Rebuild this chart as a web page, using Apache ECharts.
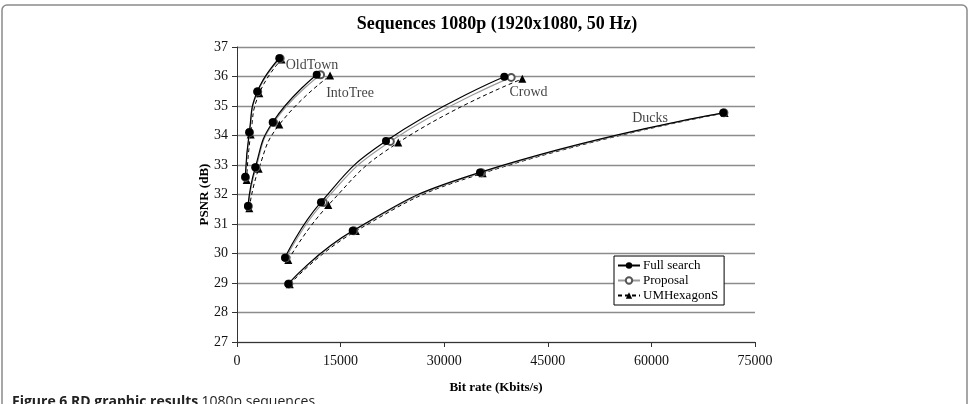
<!DOCTYPE html>
<html>
<head>
<meta charset="utf-8">
<script src="https://cdn.jsdelivr.net/npm/echarts@6/dist/echarts.min.js"></script>
<style>
  html, body { margin: 0; padding: 0; background: #fff; }
  #main { width: 970px; height: 404px; }
</style>
</head>
<body>
<div id="main"></div>
<script>
// axis ticks
var xTicks = [0, 15000, 30000, 45000, 60000, 75000]
var yTicks = [27, 37]
var methods = ['Full search', 'Proposal', 'UMHexagonS']

// [bit rate (Kbits/s), PSNR (dB)]
var oldTownFull = [[1200, 32.60], [1780, 34.11], [2940, 35.49], [6130, 36.62]]
var oldTownProp = [[1230, 32.58], [1820, 34.10], [3000, 35.48], [6250, 36.61]]
var oldTownUmh = [[1400, 32.49], [1980, 34.03], [3230, 35.43], [6450, 36.58]]

var intoTreeFull = [[1590, 31.61], [2650, 32.92], [5170, 34.45], [11540, 36.06]]
var intoTreeProp = [[1650, 31.60], [2750, 32.91], [5300, 34.44], [12100, 36.06]]
var intoTreeUmh = [[1780, 31.53], [3140, 32.87], [6130, 34.37], [13470, 36.03]]

var crowdFull = [[6950, 29.86], [12160, 31.74], [21570, 33.81], [38700, 35.99]]
var crowdProp = [[7100, 29.85], [12500, 31.73], [22200, 33.80], [39700, 35.97]]
var crowdUmh = [[7430, 29.78], [13220, 31.64], [23350, 33.76], [41310, 35.92]]

var ducksFull = [[7430, 28.97], [16750, 30.77], [35180, 32.75], [70410, 34.77]]
var ducksProp = [[7500, 28.97], [16900, 30.77], [35400, 32.74], [70500, 34.77]]
var ducksUmh = [[7650, 28.96], [17200, 30.76], [35570, 32.72], [70600, 34.76]]

// sequence name labels, placed in data coordinates
var seqNames = ['OldTown', 'IntoTree', 'Crowd', 'Ducks']
var seqLabelPos = [[10860, 36.39], [16360, 35.43], [42210, 35.46], [59800, 34.59]]

var serif = '"Liberation Serif", "DejaVu Serif", serif'

function fullSeries(data) {
	return {
		name: methods[0], type: 'line', data: data, smooth: true,
		symbol: 'circle', symbolSize: 8, z: 4,
		itemStyle: { color: '#000' },
		lineStyle: { color: '#000', width: 1.2 }
	}
}
function propSeries(data) {
	return {
		name: methods[1], type: 'line', data: data, smooth: true,
		symbol: 'emptyCircle', symbolSize: 7, z: 3,
		itemStyle: { color: '#555', borderWidth: 1 },
		lineStyle: { color: '#9a9a9a', width: 1.2 }
	}
}
function umhSeries(data) {
	return {
		name: methods[2], type: 'line', data: data, smooth: true,
		symbol: 'triangle', symbolSize: 8, z: 2,
		itemStyle: { color: '#000' },
		lineStyle: { color: '#000', width: 1, type: [4, 3] }
	}
}

var series = [
	umhSeries(oldTownUmh), propSeries(oldTownProp), fullSeries(oldTownFull),
	umhSeries(intoTreeUmh), propSeries(intoTreeProp), fullSeries(intoTreeFull),
	umhSeries(crowdUmh), propSeries(crowdProp), fullSeries(crowdFull),
	umhSeries(ducksUmh), propSeries(ducksProp), fullSeries(ducksFull),
	{
		type: 'scatter', symbolSize: 0, silent: true,
		data: seqLabelPos.map(function (p, i) { return { value: p, name: seqNames[i] } }),
		label: {
			show: true, position: 'inside', formatter: '{b}',
			fontFamily: serif, fontSize: 14, color: '#111'
		}
	}
]

var chart = echarts.init(document.getElementById('main'))
chart.setOption({
	animation: false,
	backgroundColor: '#fff',
	grid: { left: 237, right: 215, top: 47, bottom: 62 },
	legend: {
		data: methods,
		orient: 'vertical',
		left: 614, top: 256,
		padding: [3, 6, 3, 3],
		itemGap: 2,
		itemWidth: 22, itemHeight: 8,
		backgroundColor: '#fff',
		borderColor: '#000', borderWidth: 1,
		textStyle: { fontFamily: serif, fontSize: 13, color: '#000', padding: [0, 0, 0, -2] }
	},
	xAxis: {
		type: 'value', min: xTicks[0], max: xTicks[xTicks.length - 1], interval: 15000,
		name: 'Bit rate (Kbits/s)', nameLocation: 'middle', nameGap: 39, nameMoveOverlap: false,
		nameTextStyle: { fontFamily: serif, fontSize: 13, fontWeight: 'bold', color: '#000' },
		axisLine: { show: true, lineStyle: { color: '#333', width: 1 } },
		axisTick: { show: true, length: 5, lineStyle: { color: '#333' } },
		axisLabel: {
			margin: 12, fontFamily: serif, fontSize: 14, color: '#111',
			formatter: function (v) { return String(v) }
		},
		splitLine: { show: false }
	},
	yAxis: {
		type: 'value', min: yTicks[0], max: yTicks[1], interval: 1,
		name: 'PSNR (dB)', nameLocation: 'middle', nameGap: 26, nameMoveOverlap: false,
		nameTextStyle: { fontFamily: serif, fontSize: 13, fontWeight: 'bold', color: '#000' },
		axisLine: { show: true, lineStyle: { color: '#333', width: 1 } },
		axisTick: { show: true, length: 5, lineStyle: { color: '#333' } },
		axisLabel: { margin: 9, fontFamily: serif, fontSize: 14, color: '#111' },
		splitLine: { show: true, lineStyle: { color: '#8c8c8c', width: 1.3 } }
	},
	graphic: [
		{
			type: 'rect', silent: true, z: -10,
			shape: { x: 2, y: 5, width: 965, height: 430, r: 5 },
			style: { fill: 'none', stroke: '#8a8a8a', lineWidth: 1.5 }
		},
		{
			type: 'text', x: 497, y: 24,
			style: {
				text: 'Sequences 1080p (1920x1080, 50 Hz)',
				font: 'bold 18px ' + serif, fill: '#000',
				align: 'center', verticalAlign: 'middle'
			}
		},
		{
			type: 'text', x: 12, y: 395,
			style: {
				text: '{a|Figure 6 RD graphic results} {b|1080p sequences}',
				verticalAlign: 'top',
				rich: {
					a: { fontFamily: '"Open Sans", sans-serif', fontSize: 14, fontWeight: 'bold', fill: '#222' },
					b: { fontFamily: '"Open Sans", sans-serif', fontSize: 14, fill: '#222' }
				}
			}
		}
	],
	series: series
})
</script>
</body>
</html>
